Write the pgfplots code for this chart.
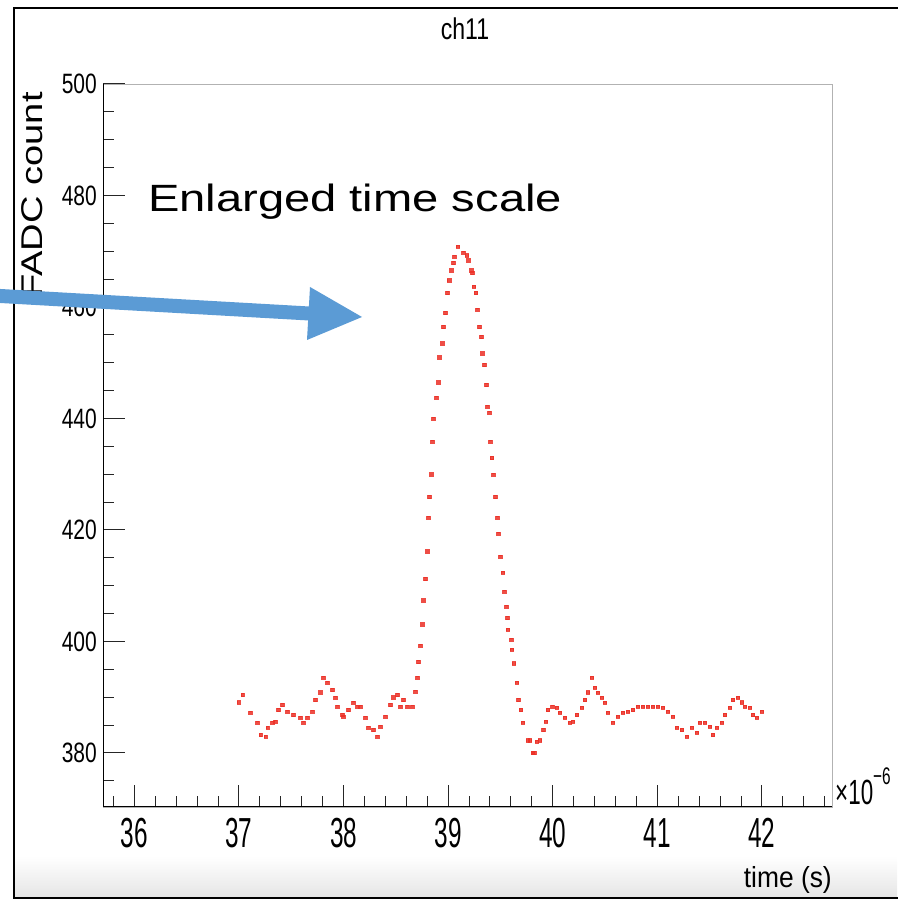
\documentclass[border=0pt]{standalone}
\usepackage{pgfplots}
\pgfplotsset{compat=1.18}
\usepackage{pgfplotstable}
\usepackage{fontspec}
\setmainfont{Liberation Sans}
\definecolor{arrowblue}{RGB}{91,155,213}
\definecolor{datared}{RGB}{236,48,38}
\pgfplotstableread{
x y
36.994 389.1
37.032 390.4
37.108 387.2
37.175 385.4
37.204 383.2
37.252 382.9
37.271 384.5
37.318 385.4
37.347 385.6
37.376 387.7
37.414 388.6
37.462 387.4
37.519 386.8
37.586 386.3
37.615 385.4
37.653 386.3
37.701 387.4
37.729 389.5
37.777 390.9
37.806 393.5
37.844 392.6
37.892 391.3
37.920 389.9
37.939 388.3
37.987 386.8
37.997 386.5
38.045 387.7
38.092 389.0
38.131 388.3
38.159 388.3
38.207 386.3
38.236 384.5
38.283 384.1
38.322 382.9
38.350 384.7
38.398 386.5
38.446 388.6
38.474 390.0
38.513 390.4
38.541 388.3
38.570 389.5
38.608 388.3
38.656 388.3
38.685 391.0
38.704 393.5
38.713 396.3
38.732 399.2
38.752 403.1
38.761 407.4
38.780 411.2
38.799 416.2
38.809 422.2
38.818 425.9
38.837 430.0
38.847 435.8
38.857 440.0
38.885 443.7
38.904 446.5
38.914 451.0
38.943 453.5
38.952 456.4
38.971 458.9
38.990 462.5
39.009 464.8
39.029 466.6
39.048 467.9
39.057 469.0
39.095 470.8
39.143 469.7
39.181 469.3
39.191 468.4
39.220 466.6
39.229 466.1
39.248 463.6
39.267 462.5
39.277 459.5
39.296 456.4
39.315 454.6
39.325 451.7
39.344 449.6
39.363 446.0
39.373 442.1
39.392 441.0
39.401 435.8
39.420 432.9
39.430 429.9
39.449 425.9
39.468 422.2
39.478 419.3
39.497 415.2
39.525 412.3
39.535 408.9
39.554 406.2
39.564 404.2
39.573 402.1
39.602 400.3
39.611 398.5
39.630 396.1
39.659 392.6
39.669 389.5
39.697 387.7
39.716 385.4
39.764 382.3
39.783 382.3
39.812 380.0
39.822 380.0
39.850 382.0
39.879 382.3
39.908 384.1
39.936 385.6
39.955 387.7
39.994 388.3
40.041 388.1
40.070 387.2
40.118 386.3
40.165 385.4
40.194 385.6
40.232 386.8
40.280 388.1
40.309 389.5
40.337 390.9
40.376 393.5
40.404 391.7
40.433 390.8
40.471 389.9
40.500 389.0
40.529 387.2
40.576 385.4
40.624 386.5
40.672 387.2
40.720 387.4
40.767 387.7
40.815 388.3
40.863 388.3
40.911 388.3
40.958 388.3
41.006 388.3
41.054 388.1
41.102 387.4
41.150 386.5
41.188 384.5
41.236 384.1
41.283 382.9
41.331 384.5
41.379 383.6
41.407 385.4
41.455 385.4
41.503 384.7
41.532 383.2
41.570 384.5
41.618 385.4
41.646 386.8
41.694 388.1
41.723 389.5
41.771 389.9
41.809 389.1
41.838 388.3
41.885 388.1
41.914 386.8
41.952 386.3
42.000 387.4
}\fadc
\begin{document}
\begin{tikzpicture}[x=1pt,y=1pt]
\useasboundingbox (0,0) rectangle (897,901);
\fill[white] (0,0) rectangle (897,901);
\shade[top color=white, bottom color=black!10] (15,4) rectangle (897,45);
\begin{axis}[
  at={(103pt,94pt)}, anchor=south west,
  scale only axis, width=729pt, height=723pt,
  xmin=35.7, xmax=42.67, ymin=370.3, ymax=500,
  xtick={36,37,38,39,40,41,42},
  ytick={380,400,420,440,460,480,500},
  minor xtick={35.8,36.2,36.4,36.6,36.8,37.2,37.4,37.6,37.8,38.2,38.4,38.6,38.8,39.2,39.4,39.6,39.8,40.2,40.4,40.6,40.8,41.2,41.4,41.6,41.8,42.2,42.4,42.6},
  minor ytick={375,385,390,395,405,410,415,425,430,435,445,450,455,465,470,475,485,490,495},
  tick pos=left, tick align=inside,
  major tick length=22pt, minor tick length=11pt,
  tick style={black!85, line width=1pt},
  axis line style={black!30, line width=0.8pt},
  /pgf/number format/assume math mode=true,
  xticklabel={\scalebox{0.58}[1]{\fontsize{42}{42}\selectfont\pgfmathprintnumber{\tick}}},
  yticklabel={\scalebox{0.75}[1]{\fontsize{28}{28}\selectfont\pgfmathprintnumber{\tick}}},
  xticklabel style={anchor=north, inner sep=0pt, yshift=-11pt},
  yticklabel style={anchor=east, inner sep=0pt, xshift=-6pt},
]
\addplot[only marks, mark=square*, mark size=1.6pt, color=datared, opacity=0.85] table[x=x, y=y] {\fadc};
\draw[black, line width=1.5pt] (rel axis cs:0,1) -- (rel axis cs:0,0) -- (rel axis cs:1,0);
\end{axis}
% frame
\draw[line width=2.5pt] (905,893) -- (14,893) -- (14,3) -- (905,3);
% titles and labels
\node[anchor=base, inner sep=0pt] at (465,861) {\fontsize{30}{30}\selectfont\scalebox{0.77}[1]{ch11}};
\node[anchor=base east, inner sep=0pt] at (832,13) {\fontsize{29}{29}\selectfont\scalebox{0.91}[1]{time (s)}};
\node[anchor=base west, inner sep=0pt] at (835,96) {\fontsize{35}{35}\selectfont\scalebox{0.64}[1]{×10\raisebox{20pt}{\fontsize{24}{24}\selectfont −6}}};
\node[rotate=90, anchor=base, inner sep=0pt] at (42,706) {\fontsize{30}{30}\selectfont\scalebox{1.27}[1]{FADC count}};
% annotation
\node[anchor=base west, inner sep=0pt] at (148,689) {\fontsize{38}{38}\selectfont\scalebox{1.24}[1]{Enlarged time scale}};
\draw[arrowblue, line width=14pt] (-5,605.3) -- (309,587.5);
\fill[arrowblue] (310,614) -- (362,584) -- (307,561) -- cycle;
\end{tikzpicture}
\end{document}
